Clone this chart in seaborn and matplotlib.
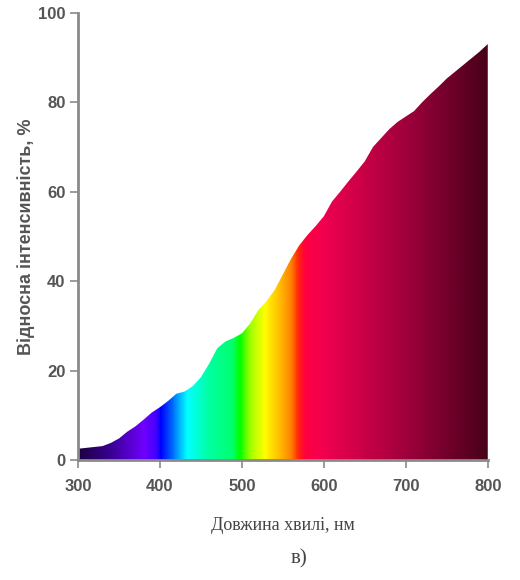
import numpy as np
import matplotlib
matplotlib.use("Agg")
import matplotlib.pyplot as plt
import seaborn as sns
from matplotlib.colors import LinearSegmentedColormap

# Дані: довжина хвилі (нм) та відносна інтенсивність (%)
dovzhyna = [300, 310, 320, 330, 340, 350, 360, 370, 380, 390,
            400, 410, 420, 430, 440, 450, 460, 470, 480, 490,
            500, 510, 520, 530, 540, 550, 560, 570, 580, 590,
            600, 610, 620, 630, 640, 650, 660, 670, 680, 690,
            700, 710, 720, 730, 740, 750, 760, 770, 780, 790, 800]
intensyvnist = [2.5, 2.7, 2.9, 3.1, 3.8, 4.8, 6.3, 7.5, 9.0, 10.6,
                11.8, 13.2, 14.8, 15.3, 16.5, 18.5, 21.5, 25.0, 26.5, 27.3,
                28.3, 30.5, 33.5, 35.5, 38.0, 41.5, 45.0, 48.0, 50.3, 52.3,
                54.5, 57.8, 60.0, 62.3, 64.5, 66.8, 70.0, 72.0, 74.0, 75.6,
                76.8, 78.0, 80.0, 81.8, 83.5, 85.3, 86.8, 88.3, 89.8, 91.3, 93.0]
x_ticks = [300, 400, 500, 600, 700, 800]
y_ticks = [0, 20, 40, 60, 80, 100]

# Спектральна палітра (стиль)
spektr = LinearSegmentedColormap.from_list("spektr", [
    (0.00, "#1c0040"), (0.08, "#3a0095"), (0.16, "#7000ff"),
    (0.19, "#4000ff"), (0.20, "#0000ff"), (0.235, "#0080ff"),
    (0.265, "#00ffff"), (0.32, "#00ffa0"), (0.375, "#00ff70"),
    (0.395, "#00ff00"), (0.42, "#a0ff00"), (0.455, "#ffff00"),
    (0.49, "#ffc000"), (0.52, "#ff8000"), (0.535, "#ff3000"),
    (0.555, "#ff0040"), (0.60, "#f00050"), (0.80, "#a0003c"),
    (1.00, "#48001a")])

sns.set_theme(style="ticks")
plt.rcParams["font.family"] = ["Liberation Sans", "DejaVu Sans"]

fig = plt.figure(figsize=(5.2, 5.8), dpi=100)
ax = fig.add_axes([0.15, 0.207, 0.788, 0.771])

x = np.array(dovzhyna)
y = np.array(intensyvnist)

# Контур спектра через seaborn
sns.lineplot(x=x, y=y, ax=ax, color="white", linewidth=0)

obl = ax.fill_between(x, y, 0, facecolor="none", edgecolor="none")
grad = np.linspace(0, 1, 500).reshape(1, -1)
img = ax.imshow(grad, cmap=spektr, aspect="auto", extent=[300, 800, 0, 100],
                origin="lower", zorder=1)
img.set_clip_path(obl.get_paths()[0], transform=ax.transData)

ax.set_xlim(300, 800)
ax.set_ylim(0, 100)
ax.set_xticks(x_ticks)
ax.set_yticks(y_ticks)
for s in ["top", "right"]:
    ax.spines[s].set_visible(False)
for s in ["left", "bottom"]:
    ax.spines[s].set_color("#8a8a8a")
    ax.spines[s].set_linewidth(2)
ax.tick_params(colors="#8a8a8a", width=1.2, length=6, labelsize=12,
               labelcolor="#555555", pad=3)
ax.tick_params(axis="x", pad=8)
for lbl in ax.get_xticklabels() + ax.get_yticklabels():
    lbl.set_fontweight("bold")

ax.set_ylabel("Відносна інтенсивність, %", fontsize=13, fontweight="bold",
              color="#555555", labelpad=2)
ax.set_xlabel("Довжина хвилі, нм", fontsize=13, family="Liberation Serif",
              color="#444444", labelpad=16)
fig.text(0.575, 0.037, "в)", fontsize=15, family="Liberation Serif",
         color="#444444", ha="center", va="center")

fig.savefig("out.png", dpi=100)
